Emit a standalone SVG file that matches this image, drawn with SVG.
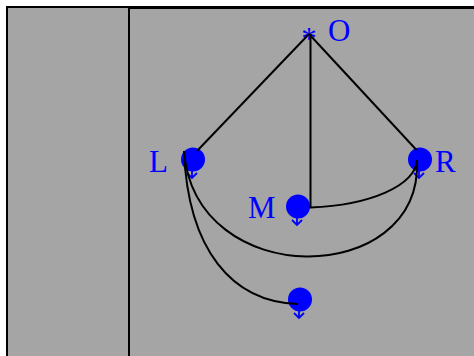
<svg xmlns="http://www.w3.org/2000/svg" width="474" height="356" viewBox="0 0 474 356">
<style>
.panel{fill:#a5a5a5;stroke:#000;stroke-width:2}
.dot{fill:#0000ff}
.tick{fill:none;stroke:#0000ff;stroke-width:1.8}
.lbl{fill:#0000ff;font-family:"Liberation Serif","Times New Roman",serif;font-size:31px}
.edge{fill:none;stroke:#000;stroke-width:2}
</style>
<rect width="474" height="356" fill="#fff"/>
<rect class="panel" x="7" y="7" width="480" height="360"/>
<rect class="panel" x="129" y="8" width="360" height="360"/>
<g id="node-O">
<text class="lbl" x="309" y="49" text-anchor="middle">*</text>
<text class="lbl" x="328" y="41">O</text>
</g>
<g id="node-L">
<circle class="dot" cx="193" cy="159.5" r="12"/>
<path class="tick" d="M192,170V178M187,173L192,178L197,173"/>
<text class="lbl" x="149" y="172">L</text>
</g>
<g id="node-R">
<circle class="dot" cx="420" cy="159.5" r="12"/>
<path class="tick" d="M419,170V178M414,173L419,178L424,173"/>
<text class="lbl" x="435" y="172">R</text>
</g>
<g id="node-M">
<circle class="dot" cx="298" cy="206.5" r="12"/>
<path class="tick" d="M297,217V225M292,220L297,225L302,220"/>
<text class="lbl" x="248" y="218">M</text>
</g>
<g id="node-B">
<circle class="dot" cx="300" cy="299.5" r="12"/>
<path class="tick" d="M299,310V318M294,313L299,318L304,313"/>
</g>
<g id="connectors">
<path class="edge" d="M309,34L197,151"/>
<path class="edge" d="M309,34L416.5,150"/>
<path class="edge" d="M310.5,34V207.5C370,205 415,186 417,160"/>
<path class="edge" d="M184,151C195,292 422,288 417,161"/>
<path class="edge" d="M184,151C188,250 232,302 298,304"/>
</g>
</svg>
